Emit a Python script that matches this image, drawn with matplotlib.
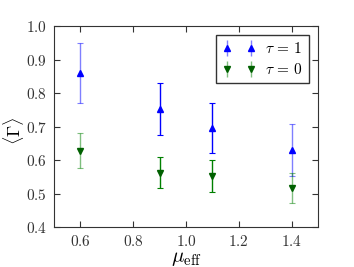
import matplotlib
matplotlib.use("Agg")
import matplotlib.pyplot as plt
from matplotlib.ticker import FuncFormatter

mu_eff = [0.6, 0.9, 1.1, 1.4]
gamma_tau1 = [0.86, 0.753, 0.695, 0.63]
err_tau1 = [0.09, 0.077, 0.075, 0.078]
gamma_tau0 = [0.628, 0.562, 0.553, 0.517]
err_tau0 = [0.053, 0.046, 0.048, 0.045]
bar_alpha = [0.5, 1.0, 1.0, 0.5]

plt.rcParams['mathtext.fontset'] = 'cm'
plt.rcParams['font.family'] = 'serif'
plt.rcParams['font.serif'] = ['DejaVu Serif']

fig = plt.figure(figsize=(3.54, 2.67), dpi=100)
ax = fig.add_axes([54/354, 1-227/267, (318-54)/354, (227-26)/267])

handles = []
for ys, es, col, mcol, mk, lab in [(gamma_tau1, err_tau1, 'blue', 'blue', '^', r'$\tau\,=\,1$'),
                                   (gamma_tau0, err_tau0, 'green', '#006000', 'v', r'$\tau\,=\,0$')]:
    for i, x in enumerate(mu_eff):
        ax.errorbar([x], [ys[i]], yerr=[es[i]], fmt='none', ecolor=col,
                    alpha=bar_alpha[i], capsize=2, elinewidth=1, capthick=0.8)
    ax.plot(mu_eff, ys, linestyle='none', marker=mk, color=mcol, markersize=5,
            markeredgecolor=mcol)
    h = ax.errorbar([], [], yerr=[], fmt=mk, color=mcol, ecolor=col, markersize=5,
                    capsize=2, elinewidth=1, capthick=0.8, label=lab)
    for art in h.lines[1] + h.lines[2]:
        art.set_alpha(0.5)
    handles.append(h)

ax.set_xlim(0.5, 1.5)
ax.set_ylim(0.4, 1.0)
ax.set_xticks([0.6, 0.8, 1.0, 1.2, 1.4])
ax.set_yticks([0.4, 0.5, 0.6, 0.7, 0.8, 0.9, 1.0])
fmt = FuncFormatter(lambda v, p: r'$%.1f$' % v)
ax.xaxis.set_major_formatter(fmt)
ax.yaxis.set_major_formatter(fmt)
ax.tick_params(direction='in', top=True, right=True, labelsize=11, length=4,
               color='#333333', labelcolor='#333333', pad=5)
for s in ax.spines.values():
    s.set_color('#333333')

ax.set_xlabel(r'$\mu_{\rm eff}$', fontsize=15, labelpad=0)
fig.text(14/354, 1-131/267, r'$\langle\Gamma\rangle$', fontsize=13, rotation=90,
         ha='center', va='center')

leg = ax.legend(handles=handles, loc='upper right', numpoints=2, fontsize=11,
                fancybox=False, framealpha=1, handlelength=2.2,
                borderaxespad=0.6, labelspacing=0.4, handletextpad=0.6)
leg.get_frame().set_edgecolor('#333333')

fig.savefig('out.png', dpi=100)
